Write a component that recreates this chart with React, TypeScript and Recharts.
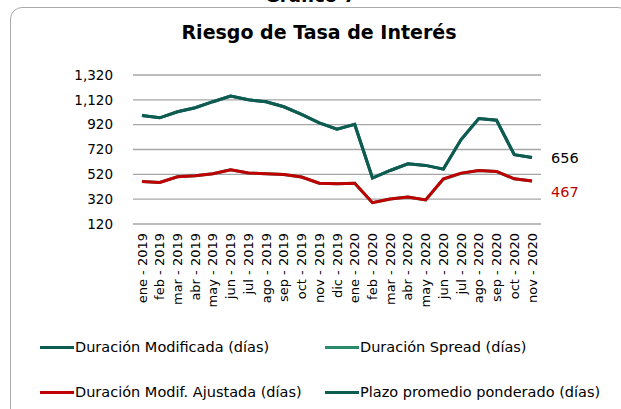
import React from 'react';
import { LineChart, Line, XAxis, YAxis, CartesianGrid, LabelList } from 'recharts';

// meses del período
const months = [
  'ene - 2019', 'feb - 2019', 'mar - 2019', 'abr - 2019', 'may - 2019', 'jun - 2019',
  'jul - 2019', 'ago - 2019', 'sep - 2019', 'oct - 2019', 'nov - 2019', 'dic - 2019',
  'ene - 2020', 'feb - 2020', 'mar - 2020', 'abr - 2020', 'may - 2020', 'jun - 2020',
  'jul - 2020', 'ago - 2020', 'sep - 2020', 'oct - 2020', 'nov - 2020',
];

const duracionModificada = [
  994, 975, 1024, 1056, 1105, 1150, 1120, 1105, 1064, 1002, 935, 883,
  922, 490, 551, 605, 592, 562, 800, 970, 956, 678, 656,
];
const duracionSpread = [
  462, 454, 500, 508, 525, 557, 530, 525, 519, 498, 449, 444,
  449, 292, 322, 338, 314, 480, 528, 550, 542, 484, 467,
];
const duracionAjustada = [
  462, 454, 500, 508, 525, 557, 530, 525, 519, 498, 449, 444,
  449, 292, 322, 338, 314, 484, 530, 551, 543, 484, 467,
];
const plazoPromedio = [
  994, 975, 1024, 1056, 1105, 1150, 1120, 1105, 1064, 1002, 935, 883,
  922, 490, 551, 605, 592, 562, 800, 970, 956, 678, 656,
];

const yTicks = [120, 320, 520, 720, 920, 1120, 1320];

const FONT = '"DejaVu Sans", sans-serif';
const GREEN = '#0d5c52';
const GREEN_LIGHT = '#2b8a69';
const RED = '#c00000';

const data = months.map((m, i) => ({
  month: m,
  modificada: duracionModificada[i],
  spread: duracionSpread[i],
  ajustada: duracionAjustada[i],
  plazo: plazoPromedio[i],
}));

const legendItems = [
  { label: 'Duración Modificada (días)', color: GREEN },
  { label: 'Duración Spread (días)', color: GREEN_LIGHT },
  { label: 'Duración Modif. Ajustada (días)', color: RED },
  { label: 'Plazo promedio ponderado (días)', color: GREEN },
];

function MonthTick({ x, y, payload }: any) {
  return (
    <text
      x={x}
      y={y}
      transform={`rotate(-90, ${x}, ${y})`}
      textAnchor="end"
      dy="0.35em"
      fontSize={13}
      fontFamily={FONT}
      fill="#000"
    >
      {payload.value}
    </text>
  );
}

// etiqueta solo en el último punto
function lastLabel(color: string, dy: number) {
  return (props: any) => {
    const { x, y, index, value } = props;
    if (index !== months.length - 1) return null;
    return (
      <text x={x + 19} y={y + dy} fontSize={14.5} fontFamily={FONT} fill={color} dominantBaseline="middle">
        {value}
      </text>
    );
  };
}

export default function App() {
  return (
    <div style={{ position: 'relative', width: 621, height: 409, overflow: 'hidden', background: '#fff', fontFamily: FONT }}>
      <style>{'body{margin:0}'}</style>
      {/* Recuadro */}
      <div
        style={{
          position: 'absolute',
          left: 10,
          top: 7,
          width: 620,
          height: 420,
          border: '1.5px solid #ababab',
          borderRadius: 12,
          boxSizing: 'border-box',
        }}
      />
      <div
        style={{
          position: 'absolute',
          left: 0,
          width: 621,
          top: -15,
          textAlign: 'center',
          fontWeight: 'bold',
          fontSize: 18,
        }}
      >
        Gráfico 7
      </div>
      <div
        style={{
          position: 'absolute',
          left: 0,
          width: 638,
          top: 21,
          textAlign: 'center',
          fontWeight: 'bold',
          fontSize: 19,
        }}
      >
        Riesgo de Tasa de Interés
      </div>

      <div style={{ position: 'absolute', left: 0, top: 0 }}>
        <LineChart width={621} height={409} data={data} margin={{ top: 75, right: 80, bottom: 0, left: 0 }}>
          <CartesianGrid vertical={false} stroke="#a6a6a6" strokeWidth={1.3} />
          <XAxis
            dataKey="month"
            interval={0}
            height={185}
            axisLine={false}
            tickLine={false}
            tickSize={0}
            tickMargin={9}
            padding={{ left: 9, right: 9 }}
            tick={<MonthTick />}
          />
          <YAxis
            width={133}
            domain={[120, 1320]}
            ticks={yTicks}
            axisLine={false}
            tickLine={false}
            tickSize={0}
            tickMargin={20}
            tick={{ fontSize: 13.5, fontFamily: FONT, fill: '#000' }}
            tickFormatter={(v: number) => v.toLocaleString('en-US')}
          />
          <Line dataKey="plazo" stroke={GREEN} strokeWidth={3} dot={false} isAnimationActive={false} />
          <Line dataKey="modificada" stroke={GREEN} strokeWidth={3} dot={false} isAnimationActive={false}>
            <LabelList dataKey="modificada" content={lastLabel('#000', 2)} />
          </Line>
          <Line dataKey="spread" stroke={GREEN_LIGHT} strokeWidth={3} dot={false} isAnimationActive={false} />
          <Line dataKey="ajustada" stroke={RED} strokeWidth={3} dot={false} isAnimationActive={false}>
            <LabelList dataKey="ajustada" content={lastLabel(RED, 12)} />
          </Line>
        </LineChart>
      </div>

      {/* Leyenda */}
      {legendItems.map((item, i) => (
        <div
          key={item.label}
          style={{
            position: 'absolute',
            left: i % 2 === 0 ? 40 : 325,
            top: i < 2 ? 339 : 384,
            display: 'flex',
            alignItems: 'center',
            fontSize: 14.5,
            whiteSpace: 'nowrap',
          }}
        >
          <span style={{ display: 'inline-block', width: 34, height: 3, background: item.color, marginRight: 1 }} />
          {item.label}
        </div>
      ))}
    </div>
  );
}
